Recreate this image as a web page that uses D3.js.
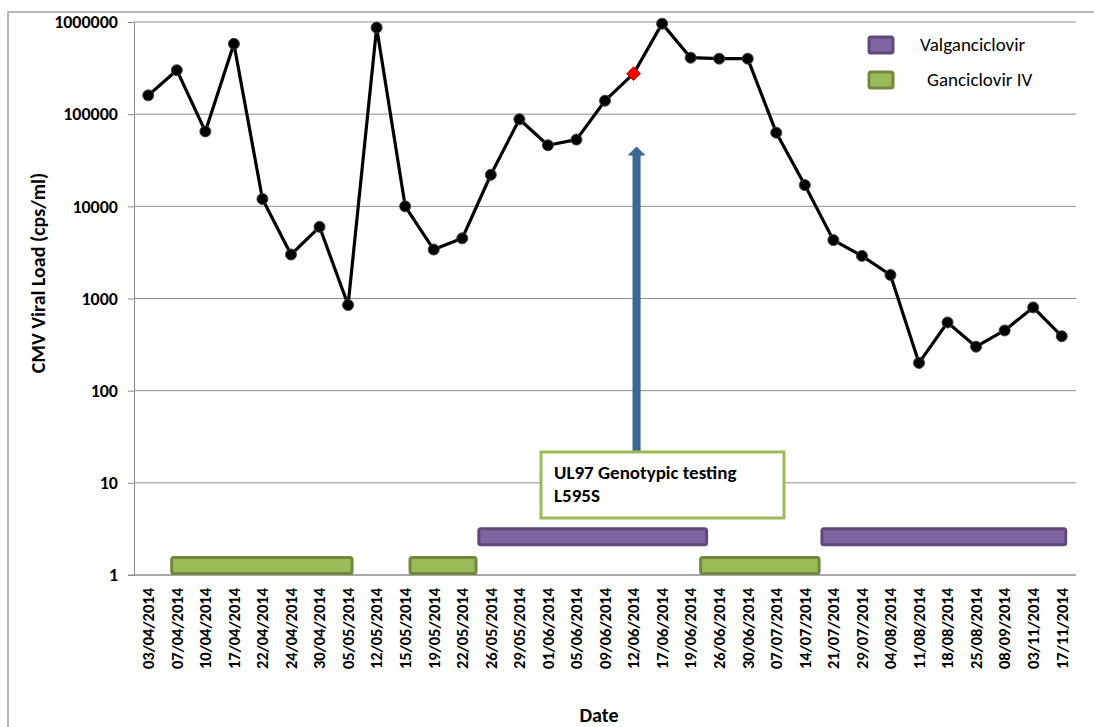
<!DOCTYPE html>
<html>
<head>
<meta charset="utf-8">
<script src="https://cdn.jsdelivr.net/npm/d3@7"></script>
<style>
  body { margin: 0; background: #fff; }
  svg text { font-family: Carlito, Calibri, "Open Sans", "Liberation Sans", Arial, sans-serif; }
</style>
</head>
<body>
<div id="chart"></div>
<script>
// chart data
const dates = ["03/04/2014", "07/04/2014", "10/04/2014", "17/04/2014", "22/04/2014", "24/04/2014",
  "30/04/2014", "05/05/2014", "12/05/2014", "15/05/2014", "19/05/2014", "22/05/2014", "26/05/2014",
  "29/05/2014", "01/06/2014", "05/06/2014", "09/06/2014", "12/06/2014", "17/06/2014", "19/06/2014",
  "26/06/2014", "30/06/2014", "07/07/2014", "14/07/2014", "21/07/2014", "29/07/2014", "04/08/2014",
  "11/08/2014", "18/08/2014", "25/08/2014", "08/09/2014", "03/11/2014", "17/11/2014"];
const viralLoad = [160000, 300000, 65000, 580000, 12000, 3000, 6000, 850, 870000, 10000, 3400, 4500,
  22000, 88000, 46000, 53000, 140000, 275000, 960000, 410000, 400000, 400000, 63000, 17000, 4300,
  2900, 1800, 200, 550, 300, 450, 800, 390];
const genotypeDate = "12/06/2014"; // red marker + annotation
const yTicks = [1, 10, 100, 1000, 10000, 100000, 1000000];

// treatment periods (in category units along the date axis)
const treatDrug = ["Ganciclovir IV", "Ganciclovir IV", "Valganciclovir", "Ganciclovir IV", "Valganciclovir"];
const treatStart = [1.32, 9.67, 12.08, 19.85, 24.1];
const treatEnd = [7.64, 11.98, 20.06, 24.0, 32.64];
const treatLevel = { "Valganciclovir": 2.6, "Ganciclovir IV": 1.27 };
const legendItems = ["Valganciclovir", "Ganciclovir IV"];

const annotationLines = ["UL97 Genotypic testing", "L595S"];

const colors = {
  "Valganciclovir": { fill: "#8064a2", stroke: "#5f497a" },
  "Ganciclovir IV": { fill: "#9bbb59", stroke: "#71893f" }
};

const width = 1094, height = 727;
const margin = { top: 22, right: 18, bottom: 152, left: 134 };

const svg = d3.select("#chart").append("svg")
  .attr("width", width)
  .attr("height", height);

// outer frame
svg.append("path")
  .attr("d", `M8,${height} L8,12 L${width},12`)
  .attr("fill", "none")
  .attr("stroke", "#a0a0a0")
  .attr("stroke-width", 1.5);

const x = d3.scaleBand()
  .domain(dates)
  .range([margin.left, width - margin.right])
  .padding(0);
const xIdx = d3.scaleLinear()
  .domain([0, dates.length])
  .range([margin.left, width - margin.right]);
const y = d3.scaleLog()
  .domain([1, 1000000])
  .range([height - margin.bottom, margin.top]);
const cx = (d) => x(d) + x.bandwidth() / 2;

// gridlines
svg.append("g")
  .selectAll("line")
  .data(yTicks)
  .join("line")
  .attr("x1", margin.left)
  .attr("x2", width - margin.right)
  .attr("y1", (d) => y(d))
  .attr("y2", (d) => y(d))
  .attr("stroke", "#8c8c8c")
  .attr("stroke-width", 1);

// y axis
const yAxis = svg.append("g")
  .attr("transform", `translate(${margin.left},0)`)
  .call(d3.axisLeft(y).tickValues(yTicks).tickFormat(d3.format("d")).tickSize(6).tickPadding(10));
yAxis.select(".domain").attr("stroke", "#8c8c8c");
yAxis.selectAll(".tick line").attr("stroke", "#8c8c8c");
yAxis.selectAll("text")
  .attr("font-size", 18)
  .attr("font-weight", "bold")
  .attr("fill", "#000");

// x axis
const xAxis = svg.append("g")
  .attr("transform", `translate(0,${height - margin.bottom})`)
  .call(d3.axisBottom(x).tickSize(0).tickPadding(0));
xAxis.select(".domain").attr("stroke", "#8c8c8c").attr("d", `M${margin.left - 6},0H${width - margin.right}`);
xAxis.selectAll("text")
  .attr("font-size", 16.5)
  .attr("font-weight", "bold")
  .attr("fill", "#000")
  .attr("transform", "rotate(-90)")
  .attr("text-anchor", "end")
  .attr("x", -13)
  .attr("y", 0)
  .attr("dy", "0.35em");

// axis titles
svg.append("text")
  .attr("transform", `translate(45,273) rotate(-90)`)
  .attr("text-anchor", "middle")
  .attr("font-size", 20)
  .attr("font-weight", "bold")
  .text("CMV Viral Load (cps/ml)");
svg.append("text")
  .attr("x", 599)
  .attr("y", 722)
  .attr("text-anchor", "middle")
  .attr("font-size", 20)
  .attr("font-weight", "bold")
  .text("Date");

// treatment bars
const barH = 16;
svg.append("g")
  .selectAll("rect")
  .data(treatDrug.map((d, i) => ({ drug: d, s: treatStart[i], e: treatEnd[i] })))
  .join("rect")
  .attr("x", (d) => xIdx(d.s))
  .attr("y", (d) => y(treatLevel[d.drug]) - barH / 2)
  .attr("width", (d) => xIdx(d.e) - xIdx(d.s))
  .attr("height", barH)
  .attr("rx", 2)
  .attr("fill", (d) => colors[d.drug].fill)
  .attr("stroke", (d) => colors[d.drug].stroke)
  .attr("stroke-width", 3);

// viral load line
const pts = dates.map((d, i) => ({ date: d, v: viralLoad[i] }));
svg.append("path")
  .datum(pts)
  .attr("fill", "none")
  .attr("stroke", "#000")
  .attr("stroke-width", 3.2)
  .attr("stroke-linejoin", "round")
  .attr("d", d3.line().x((d) => cx(d.date)).y((d) => y(d.v)));

svg.append("g")
  .selectAll("circle")
  .data(pts.filter((d) => d.date !== genotypeDate))
  .join("circle")
  .attr("cx", (d) => cx(d.date))
  .attr("cy", (d) => y(d.v))
  .attr("r", 5.5)
  .attr("fill", "#000")
  .attr("stroke", "#444")
  .attr("stroke-width", 1);

const gp = pts.find((d) => d.date === genotypeDate);
svg.append("path")
  .attr("d", d3.symbol(d3.symbolDiamond2, 120)())
  .attr("transform", `translate(${cx(gp.date)},${y(gp.v)})`)
  .attr("fill", "#ff0000")
  .attr("stroke", "#c00000")
  .attr("stroke-width", 1);

// annotation arrow (from box up towards the red marker)
const ax = cx(genotypeDate) + 3;
const aTop = y(44000), aBot = y(22);
svg.append("path")
  .attr("d", `M${ax - 3.5},${aBot} L${ax - 3.5},${aTop + 8} L${ax - 8},${aTop + 8} L${ax},${aTop} ` +
    `L${ax + 8},${aTop + 8} L${ax + 3.5},${aTop + 8} L${ax + 3.5},${aBot} Z`)
  .attr("fill", "#3e6799")
  .attr("stroke", "#385d8a")
  .attr("stroke-width", 1);

// annotation box
svg.append("rect")
  .attr("x", 541)
  .attr("y", 452)
  .attr("width", 243)
  .attr("height", 66)
  .attr("fill", "#fff")
  .attr("stroke", "#9bbb59")
  .attr("stroke-width", 3);
svg.append("g")
  .selectAll("text")
  .data(annotationLines)
  .join("text")
  .attr("x", 554)
  .attr("y", (d, i) => 479 + i * 23)
  .attr("font-size", 19)
  .attr("font-weight", "bold")
  .text((d) => d);

// legend
const legend = svg.append("g")
  .selectAll("g")
  .data(legendItems)
  .join("g")
  .attr("transform", (d, i) => `translate(869,${37 + i * 35})`);
legend.append("rect")
  .attr("width", 24)
  .attr("height", 16)
  .attr("rx", 2)
  .attr("fill", (d) => colors[d].fill)
  .attr("stroke", (d) => colors[d].stroke)
  .attr("stroke-width", 3);
legend.append("text")
  .attr("x", (d, i) => (i === 0 ? 51 : 58))
  .attr("y", 14)
  .attr("font-size", 19)
  .text((d) => d);
</script>
</body>
</html>
